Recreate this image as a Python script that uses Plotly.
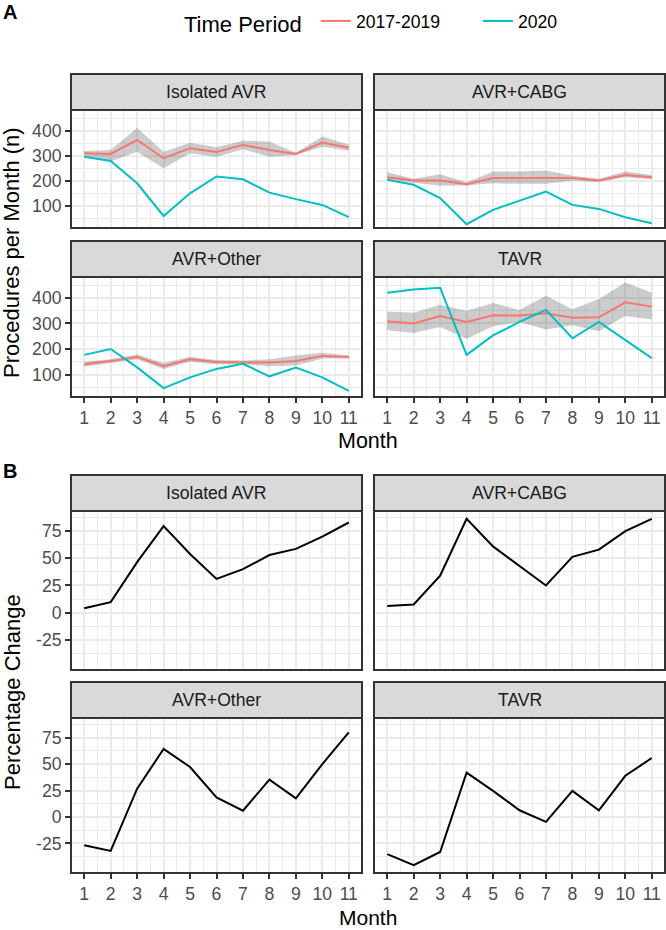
import plotly.graph_objects as go

# ---------------- data ----------------
months = list(range(1, 12))
month_labels = [str(m) for m in months]
panel_names = ["Isolated AVR", "AVR+CABG", "AVR+Other", "TAVR"]
series_names = ["2017-2019", "2020"]

# Panel A: mean monthly procedures 2017-2019 with range ribbon, and 2020 counts
iso_hist = [310, 307, 363, 290, 330, 315, 343, 323, 307, 352, 332]
iso_hist_hi = [319, 323, 410, 316, 352, 334, 360, 356, 312, 376, 345]
iso_hist_lo = [296, 277, 316, 250, 310, 296, 326, 296, 303, 336, 320]
iso_2020 = [296, 279, 190, 60, 150, 217, 206, 153, 127, 104, 55]

cabg_hist = [214, 201, 201, 186, 211, 211, 209, 211, 201, 223, 214]
cabg_hist_hi = [234, 208, 226, 193, 237, 237, 241, 220, 208, 237, 223]
cabg_hist_lo = [206, 192, 180, 181, 190, 188, 188, 201, 195, 214, 206]
cabg_2020 = [204, 184, 131, 27, 84, 120, 157, 104, 88, 55, 31]

oth_hist = [140, 153, 169, 133, 160, 149, 147, 147, 153, 173, 169]
oth_hist_hi = [150, 160, 178, 145, 170, 157, 155, 160, 175, 185, 175]
oth_hist_lo = [130, 145, 160, 122, 150, 140, 140, 132, 135, 163, 163]
oth_2020 = [177, 200, 128, 47, 89, 122, 142, 93, 127, 89, 36]

tavr_hist = [309, 300, 329, 306, 332, 331, 340, 322, 324, 383, 366]
tavr_hist_hi = [347, 342, 373, 350, 380, 353, 409, 356, 396, 460, 420]
tavr_hist_lo = [273, 263, 286, 240, 289, 306, 276, 293, 270, 329, 316]
tavr_2020 = [420, 433, 440, 177, 253, 306, 353, 242, 306, 236, 164]

# Panel B: percentage change
iso_pct = [4, 9.6, 46.5, 79.7, 54, 31, 40, 53, 58.7, 70, 83]
cabg_pct = [6, 7.4, 34, 86.4, 61, 43, 25, 51.4, 58, 75, 86.4]
oth_pct = [-26.6, -32, 26.8, 64.3, 47.3, 18.6, 6, 35.4, 17.6, 50, 80]
tavr_pct = [-35, -45.5, -33, 42, 24.7, 6.4, -4.6, 24.7, 6.4, 39, 55.8]

a_yticks = [100, 200, 300, 400]
a_yminor = [50, 150, 250, 350, 450]
b_yticks = [-25, 0, 25, 50, 75]
b_yminor = [-37.5, -12.5, 12.5, 37.5, 62.5, 87.5]
x_minor = [0.5 + k for k in range(12)]

hist_sets = [(iso_hist, iso_hist_lo, iso_hist_hi, iso_2020),
             (cabg_hist, cabg_hist_lo, cabg_hist_hi, cabg_2020),
             (oth_hist, oth_hist_lo, oth_hist_hi, oth_2020),
             (tavr_hist, tavr_hist_lo, tavr_hist_hi, tavr_2020)]
pct_sets = [iso_pct, cabg_pct, oth_pct, tavr_pct]

# ---------------- styling / layout ----------------
W, H = 666, 930
FONT = "Liberation Sans, Arial, Helvetica, sans-serif"
RED = "#F8766D"
CYAN = "#00BFC4"
GRID = "#EBEBEB"
DARK = "#333333"
TICKTXT = "#4D4D4D"


def fx(px):
    return px / W


def fy(px):
    return 1 - px / H


cols = [(71, 362), (374, 665)]
# (strip_top, plot_top, plot_bottom)
rows = [(74, 110, 228), (241, 277, 397), (475, 511, 670), (682, 718, 873)]

fig = go.Figure()
layout = dict(
    width=W, height=H,
    margin=dict(l=0, r=0, t=0, b=0),
    paper_bgcolor="white", plot_bgcolor="white",
    font=dict(family=FONT, color="black"),
    showlegend=True,
)
shapes = []
annotations = []

panel_idx = 0
for r, (stop, ptop, pbot) in enumerate(rows):
    for c, (cl, cr) in enumerate(cols):
        panel_idx += 1
        i = panel_idx
        sect_a = r < 2
        bottom_row = r in (1, 3)
        left_col = c == 0
        p = (r % 2) * 2 + c  # procedure index
        xa = dict(
            domain=[fx(cl), fx(cr)], range=[0.5, 11.5], anchor=f"y{i}",
            tickmode="array", tickvals=months, ticktext=month_labels,
            showticklabels=bottom_row,
            ticks="outside" if bottom_row else "", ticklen=5, tickwidth=2, tickcolor=DARK,
            tickfont=dict(size=17.6, color=TICKTXT, family=FONT),
            showgrid=True, gridcolor=GRID, gridwidth=2,
            minor=dict(tickvals=x_minor, showgrid=True, gridcolor=GRID, gridwidth=1),
            zeroline=False, showline=False, fixedrange=True,
        )
        yt = a_yticks if sect_a else b_yticks
        ym = a_yminor if sect_a else b_yminor
        yr = [12, 482] if sect_a else [-52.9, 93.6]
        ya = dict(
            domain=[fy(pbot), fy(ptop)], range=yr, anchor=f"x{i}",
            tickmode="array", tickvals=yt, ticktext=[str(v) for v in yt],
            showticklabels=left_col,
            ticks="outside" if left_col else "", ticklen=5, tickwidth=2, tickcolor=DARK,
            tickfont=dict(size=17.6, color=TICKTXT, family=FONT),
            showgrid=True, gridcolor=GRID, gridwidth=2,
            minor=dict(tickvals=ym, showgrid=True, gridcolor=GRID, gridwidth=1),
            zeroline=False, showline=False, fixedrange=True,
        )
        layout[f"xaxis{i}"] = xa
        layout[f"yaxis{i}"] = ya

        # panel border
        shapes.append(dict(type="rect", xref="paper", yref="paper",
                           x0=fx(cl), x1=fx(cr), y0=fy(pbot), y1=fy(ptop),
                           line=dict(color=DARK, width=2), fillcolor="rgba(0,0,0,0)",
                           layer="above"))
        # strip
        shapes.append(dict(type="rect", xref="paper", yref="paper",
                           x0=fx(cl), x1=fx(cr), y0=fy(ptop), y1=fy(stop),
                           line=dict(color=DARK, width=2), fillcolor="#D9D9D9",
                           layer="above"))
        annotations.append(dict(text=panel_names[p], xref="paper", yref="paper",
                                x=fx((cl + cr) / 2), y=fy((stop + ptop) / 2),
                                xanchor="center", yanchor="middle", showarrow=False,
                                font=dict(size=17.6, color="#1A1A1A", family=FONT)))

        if sect_a:
            mean, lo, hi, cur = hist_sets[p]
            fig.add_trace(go.Scatter(
                x=months + months[::-1], y=hi + lo[::-1], fill="toself",
                fillcolor="rgba(51,51,51,0.25)", line=dict(width=0), mode="lines",
                hoverinfo="skip", showlegend=False, xaxis=f"x{i}", yaxis=f"y{i}"))
            fig.add_trace(go.Scatter(
                x=months, y=mean, mode="lines", line=dict(color=RED, width=2),
                name=series_names[0], legendgroup="hist", showlegend=(p == 0),
                xaxis=f"x{i}", yaxis=f"y{i}"))
            fig.add_trace(go.Scatter(
                x=months, y=cur, mode="lines", line=dict(color=CYAN, width=2),
                name=series_names[1], legendgroup="cur", showlegend=(p == 0),
                xaxis=f"x{i}", yaxis=f"y{i}"))
        else:
            fig.add_trace(go.Scatter(
                x=months, y=pct_sets[p], mode="lines", line=dict(color="black", width=2),
                showlegend=False, xaxis=f"x{i}", yaxis=f"y{i}"))

# axis titles and panel tags
annotations += [
    dict(text="Procedures per Month (n)", xref="paper", yref="paper", x=fx(12), y=fy(253),
         textangle=-90, showarrow=False, xanchor="center", yanchor="middle",
         font=dict(size=22, color="black", family=FONT)),
    dict(text="Month", xref="paper", yref="paper", x=fx(368), y=fy(441),
         showarrow=False, xanchor="center", yanchor="middle",
         font=dict(size=21.5, color="black", family=FONT)),
    dict(text="Percentage Change", xref="paper", yref="paper", x=fx(12), y=fy(692),
         textangle=-90, showarrow=False, xanchor="center", yanchor="middle",
         font=dict(size=22, color="black", family=FONT)),
    dict(text="Month", xref="paper", yref="paper", x=fx(368), y=0,
         showarrow=False, xanchor="center", yanchor="bottom", borderpad=0,
         font=dict(size=21, color="black", family=FONT)),
    dict(text="<b>A</b>", xref="paper", yref="paper", x=fx(1), y=fy(12),
         showarrow=False, xanchor="left", yanchor="middle",
         font=dict(size=20, color="black", family=FONT)),
    dict(text="<b>B</b>", xref="paper", yref="paper", x=fx(1), y=fy(471),
         showarrow=False, xanchor="left", yanchor="middle",
         font=dict(size=20, color="black", family=FONT)),
]

layout["shapes"] = shapes
layout["annotations"] = annotations
layout["legend"] = dict(
    orientation="h", x=fx(182), xanchor="left", y=fy(3), yanchor="top",
    title=dict(text="Time Period ", font=dict(size=22, color="black", family=FONT), side="left"),
    font=dict(size=17.6, color="black", family=FONT), bgcolor="rgba(0,0,0,0)",
    itemwidth=30, traceorder="normal", entrywidth=117, entrywidthmode="pixels",
)
fig.update_layout(**layout)
fig.write_html(
    "out.html",
    config={"displayModeBar": False},
    post_script="document.body.style.margin='0';document.body.style.overflow='hidden';",
)
